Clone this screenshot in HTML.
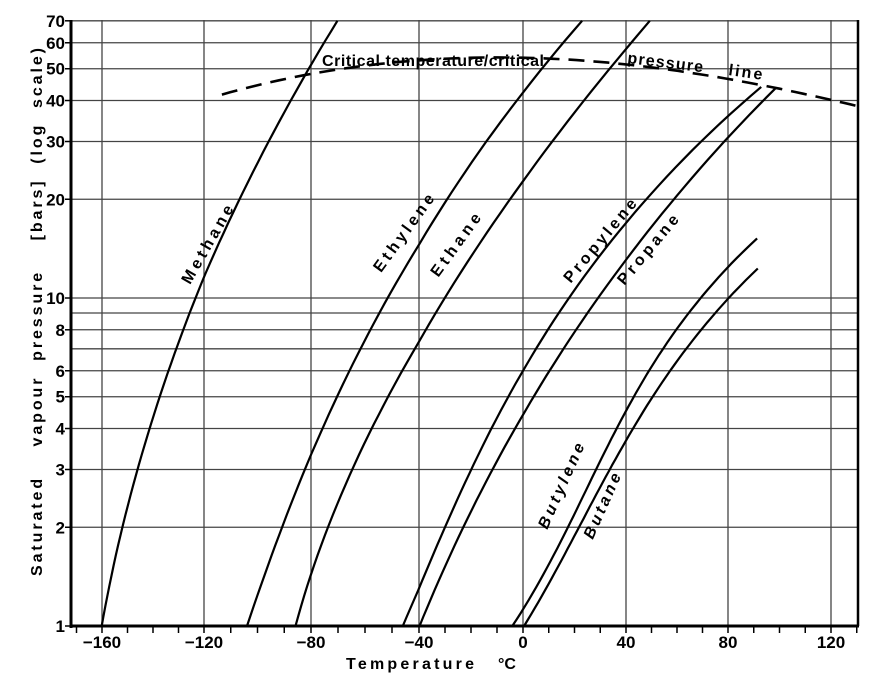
<!DOCTYPE html>
<html><head><meta charset="utf-8"><style>
html,body{margin:0;padding:0;background:#fff;}
svg{display:block;font-family:"Liberation Sans",sans-serif;}
</style></head><body>
<svg id="chart" width="885" height="689" viewBox="0 0 885 689" xmlns="http://www.w3.org/2000/svg" style="position:absolute;left:0;top:0">
<rect width="885" height="689" fill="#fff"/>
<g id="grid"></g>
<g id="axes"></g>
<g id="series"></g>
</svg>
<script>
const xTicks = [-160, -120, -80, -40, 0, 40, 80, 120];
const yGrid = [1,2,3,4,5,6,7,8,9,10,20,30,40,50,60,70];
const yTickLabels = [1,2,3,4,5,6,8,10,20,30,40,50,60,70];
const methaneT = [-160,-152.4,-146,-141,-123.5,-106.5,-96,-87.9,-80.4,-70.3];
const methaneP = [1,2,3,4,10,20,30,40,50,70];
const ethyleneT = [-103.8,-92.3,-81.1,-74.3,-53.5,-29.7,-14,-0.5,22.1];
const ethyleneP = [1,2,3,4,10,20,30,40,70];
const ethaneT = [-86.5,-73.2,-63.6,-56.4,-51,-46.5,-39,-33,-3.7,12.4,24.8,48.2];
const ethaneP = [1,2,3,4,5,6,8,10,20,30,40,70];
const propyleneT = [-46,-31.4,-17.7,-11,-6,-1.2,9.2,17,48,71,88.5,90.5];
const propyleneP = [1,2,3,4,5,6,8,10,20,30,40,44];
const propaneT = [-39.6,-23.8,-11.3,-2.5,3.9,10.5,20.9,28.6,58,79.5,94.5,97.5];
const propaneP = [1,2,3,4,5,6,8,10,20,30,40,43.6];
const butyleneT = [-3.9,16.2,29.8,37,42.7,48,59.8,69.6,91.3];
const butyleneP = [1,2,3,4,5,6,8,10,15.2];
const butaneT = [0.4,21.6,34.6,42.5,49.3,57,71,80,91.3];
const butaneP = [1,2,3,4,5,6,8,10,12.3];
const criticalT = [-113.3,-85.2,-60,-30,-7,20,50,75,97.5,115,130.5];
const criticalP = [41.6,47.6,51,53.5,54,53.3,50.5,47.5,43.6,41,38.5];

const NS="http://www.w3.org/2000/svg";
const X0=71, X1=858, Y0=626, Y1=20;
const gridPx=[102,204,311,419,523,626,728,831];
function xs(t){
  let i=0; while(i<xTicks.length-2 && t>xTicks[i+1]) i++;
  const a=xTicks[i], b=xTicks[i+1];
  return gridPx[i]+(t-a)/(b-a)*(gridPx[i+1]-gridPx[i]);
}
function ys(p){return 626-328*Math.log10(p);}
function mk(tag,attrs,parent){const e=document.createElementNS(NS,tag);for(const k in attrs)e.setAttribute(k,attrs[k]);parent.appendChild(e);return e;}
const grid=document.getElementById('grid'), axes=document.getElementById('axes'), series=document.getElementById('series');

yGrid.forEach(p=>{
  const l=mk('line',{x1:X0,x2:X1,y1:ys(p),y2:ys(p),stroke:'#444','stroke-width':1.3},grid);
  
  
});
xTicks.forEach(t=>{
  const l=mk('line',{x1:xs(t),x2:xs(t),y1:Y1,y2:Y0,stroke:'#444','stroke-width':1.3},grid);
  
  
});
mk('line',{x1:X0,x2:X0,y1:Y1,y2:Y0+2,stroke:'#000','stroke-width':3},axes);
mk('line',{x1:X0,x2:X1+1,y1:Y0,y2:Y0,stroke:'#000','stroke-width':3},axes);
mk('line',{x1:X1,x2:X1,y1:Y1,y2:Y0,stroke:'#000','stroke-width':2.5},axes);
for(let t=-170;t<=130;t+=10){
  const l=mk('line',{x1:xs(t),x2:xs(t),y1:Y0,y2:Y0+7,stroke:'#000','stroke-width':1.5},axes);
  
  
}
xTicks.forEach(t=>{
  const tx=mk('text',{x:xs(t),y:648,'text-anchor':'middle','font-size':17,'font-weight':'bold'},axes);
  tx.textContent=(t<0?'\u2212'+(-t):String(t));
  
  
});
yTickLabels.forEach(p=>{
  const tk=mk('line',{x1:X0-6,x2:X0,y1:ys(p),y2:ys(p),stroke:'#000','stroke-width':1.5},axes);
  
  
  const tx=mk('text',{x:X0-6,y:ys(p)+6,'text-anchor':'end','font-size':17,'font-weight':'bold'},axes);
  tx.textContent=String(p);
  
  
});

function polyfit(xv,yv,deg){
  const n=deg+1, A=[], b=[];
  for(let i=0;i<n;i++){A.push(new Array(n).fill(0));b.push(0);}
  for(let k=0;k<xv.length;k++){
    for(let i=0;i<n;i++){
      b[i]+=yv[k]*Math.pow(xv[k],i);
      for(let j=0;j<n;j++)A[i][j]+=Math.pow(xv[k],i+j);
    }
  }
  for(let i=0;i<n;i++){
    let m=i;for(let r=i+1;r<n;r++)if(Math.abs(A[r][i])>Math.abs(A[m][i]))m=r;
    [A[i],A[m]]=[A[m],A[i]];[b[i],b[m]]=[b[m],b[i]];
    for(let r=i+1;r<n;r++){const f=A[r][i]/A[i][i];for(let c=i;c<n;c++)A[r][c]-=f*A[i][c];b[r]-=f*b[i];}
  }
  const c=new Array(n).fill(0);
  for(let i=n-1;i>=0;i--){let s=b[i];for(let j=i+1;j<n;j++)s-=A[i][j]*c[j];c[i]=s/A[i][i];}
  return c;
}
function ev(c,x){let s=0;for(let i=c.length-1;i>=0;i--)s=s*x+c[i];return s;}

function curve(T,P,name){
  const L=P.map(p=>Math.log10(p));
  const c=polyfit(L,T,3);
  const l0=Math.min(...L), l1=Math.max(...L);
  let d='';
  for(let i=0;i<=60;i++){
    const l=l0+(l1-l0)*i/60;
    d+=(i?'L':'M')+xs(ev(c,l)).toFixed(1)+','+ys(Math.pow(10,l)).toFixed(1);
  }
  const p=mk('path',{d:d,fill:'none',stroke:'#000','stroke-width':2.2,'stroke-linejoin':'round'},series);
  
  
}
function dashed(T,P,name){
  const L=P.map(p=>Math.log10(p));
  const c=polyfit(T,L,3);
  const t0=Math.min(...T), t1=Math.max(...T);
  let d='';
  for(let i=0;i<=80;i++){
    const t=t0+(t1-t0)*i/80;
    d+=(i?'L':'M')+xs(t).toFixed(1)+','+ys(Math.pow(10,ev(c,t))).toFixed(1);
  }
  const p=mk('path',{d:d,fill:'none',stroke:'#000','stroke-width':2.6,'stroke-dasharray':'16,9'},series);
  
  
}
curve(methaneT,methaneP,'methane-line');
curve(ethyleneT,ethyleneP,'ethylene-line');
curve(ethaneT,ethaneP,'ethane-line');
curve(propyleneT,propyleneP,'propylene-line');
curve(propaneT,propaneP,'propane-line');
curve(butyleneT,butyleneP,'butylene-line');
curve(butaneT,butaneP,'butane-line');
dashed(criticalT,criticalP,'critical-line');
</script>
<svg style="position:absolute;left:0;top:0" width="885" height="689">
<g font-family="Liberation Sans, sans-serif" font-weight="bold" font-size="16">
<text transform="translate(212,247) rotate(-60)" text-anchor="middle" textLength="88" lengthAdjust="spacing">Methane</text>
<text transform="translate(408,236) rotate(-54)" text-anchor="middle" textLength="92" lengthAdjust="spacing">Ethylene</text>
<text transform="translate(460,248) rotate(-54)" text-anchor="middle" textLength="74" lengthAdjust="spacing">Ethane</text>
<text transform="translate(604,244) rotate(-50)" text-anchor="middle" textLength="104" lengthAdjust="spacing">Propylene</text>
<text transform="translate(652,253) rotate(-50)" text-anchor="middle" textLength="86" lengthAdjust="spacing">Propane</text>
<text transform="translate(566,488) rotate(-66)" text-anchor="middle" font-style="italic" textLength="92" lengthAdjust="spacing">Butylene</text>
<text transform="translate(607,508) rotate(-66)" text-anchor="middle" font-style="italic" textLength="70" lengthAdjust="spacing">Butane</text>
<text x="322" y="66" textLength="222" lengthAdjust="spacing">Critical temperature/critical</text>
<text transform="translate(627,63) rotate(7)" textLength="76" lengthAdjust="spacing">pressure</text>
<text transform="translate(728,75) rotate(8)" textLength="34" lengthAdjust="spacing">line</text>
<text x="346" y="669" textLength="128" lengthAdjust="spacing">Temperature</text>
<text x="498" y="669">°C</text>
<text transform="translate(42,576) rotate(-90)" textLength="528" lengthAdjust="spacing" xml:space="preserve">Saturated    vapour  pressure    [bars]  (log  scale)</text>
</g>
</svg>
</body></html>
